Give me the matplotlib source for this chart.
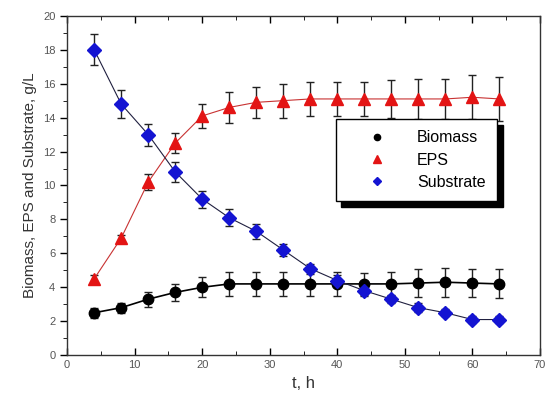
"""Biomass, EPS and substrate concentrations over fermentation time."""
import matplotlib
matplotlib.use("Agg")
import matplotlib.pyplot as plt

plt.rcParams["font.family"] = ["Liberation Sans", "DejaVu Sans"]

t = [4, 8, 12, 16, 20, 24, 28, 32, 36, 40, 44, 48, 52, 56, 60, 64]
biomass = [2.5, 2.8, 3.3, 3.7, 4.0, 4.2, 4.2, 4.2, 4.2, 4.2, 4.2, 4.2, 4.25, 4.3, 4.25, 4.2]
biomass_err = [0.3, 0.3, 0.45, 0.5, 0.6, 0.7, 0.7, 0.7, 0.7, 0.7, 0.65, 0.7, 0.8, 0.85, 0.85, 0.85]
eps = [4.5, 6.9, 10.2, 12.5, 14.1, 14.6, 14.9, 15.0, 15.1, 15.1, 15.1, 15.1, 15.1, 15.1, 15.2, 15.1]
eps_err = [0.2, 0.2, 0.45, 0.6, 0.7, 0.9, 0.9, 1.0, 1.0, 1.0, 1.0, 1.1, 1.2, 1.2, 1.3, 1.3]
substrate = [18.0, 14.8, 13.0, 10.8, 9.2, 8.1, 7.3, 6.2, 5.1, 4.4, 3.8, 3.3, 2.8, 2.5, 2.1, 2.1]
substrate_err = [0.9, 0.8, 0.65, 0.6, 0.5, 0.5, 0.45, 0.35, 0.3, 0.3, 0.3, 0.25, 0.25, 0.2, 0.2, 0.2]

fig = plt.figure(figsize=(5.46, 4.05), dpi=100)
ax = fig.add_axes([0.123, 0.123, 0.866, 0.838])

series = [(biomass, biomass_err, "Biomass", "black", "black", "o", 7.5),
          (eps, eps_err, "EPS", "#e31414", "#c83232", "^", 8.5),
          (substrate, substrate_err, "Substrate", "#1414d2", "#202040", "D", 7.5)]
handles = []
for y, err, label, color, lcolor, marker, ms in series:
    ax.errorbar(t, y, yerr=err, fmt="none", ecolor="#222222", elinewidth=1.0,
                capsize=3, capthick=1.0, zorder=2)
    ax.plot(t, y, "-", color=lcolor, linewidth=0.8 if label != "Biomass" else 1.2, zorder=3)
    h, = ax.plot(t, y, linestyle="none", marker=marker, color=color, markersize=ms,
                 markeredgecolor=color, zorder=4, label=label)
    handles.append(h)

ax.set_xlim(0, 70)
ax.set_ylim(0, 20)
ax.set_xticks(range(0, 71, 10))
ax.set_xticks(range(0, 71, 5), minor=True)
ax.set_yticks(range(0, 21, 2))
ax.set_yticks(range(0, 21, 1), minor=True)
ax.tick_params(axis="both", labelsize=8, labelcolor="#555555", width=1)
ax.tick_params(axis="x", which="both", direction="in", top=True)
ax.tick_params(axis="y", which="both", direction="out")
ax.tick_params(which="major", length=5)
ax.tick_params(which="minor", length=3)
for s in ax.spines.values():
    s.set_linewidth(1.0)
    s.set_color("#333333")

ax.set_xlabel("t, h", fontsize=12, color="#333333")
ax.set_ylabel("Biomass, EPS and Substrate, g/L", fontsize=11, color="#333333")

leg = ax.legend(handles=handles, loc="upper left", bbox_to_anchor=(0.568, 0.695),
                fontsize=11.5, frameon=True, fancybox=False,
                shadow={"ox": 4, "oy": -4, "color": "black", "alpha": 1},
                edgecolor="black", markerscale=0.6, handlelength=3.8,
                borderpad=0.7, labelspacing=0.45, handletextpad=0.6, borderaxespad=0)
leg.get_frame().set_linewidth(1.0)

fig.savefig("out.png", dpi=100)
